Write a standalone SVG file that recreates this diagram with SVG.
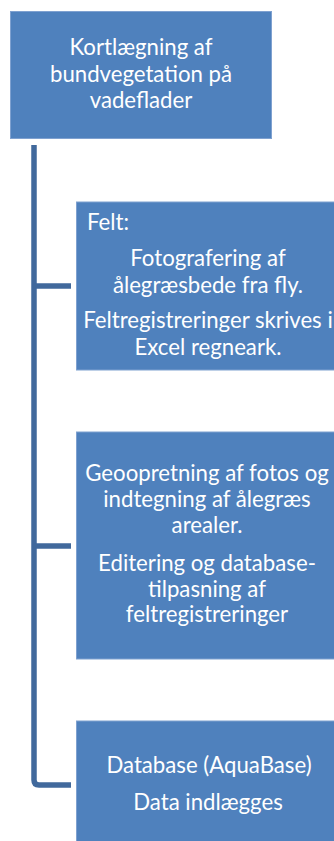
<svg xmlns="http://www.w3.org/2000/svg" width="334" height="841" viewBox="0 0 334 841">
<style>
.box{fill:#4F81BD;stroke:#7FA1D0;stroke-width:1}
.t{font-family:Lato,"Open Sans",sans-serif;font-size:22.2px;fill:#FFFFFF;text-anchor:middle}
.l{text-anchor:start}
.c{fill:none;stroke:#41699C;stroke-width:5.5}
</style>
<rect width="334" height="841" fill="#FFFFFF"/>
<g id="connectors">
<path class="c" d="M34 145 V780 Q34 785 39 785 H71"/>
<path class="c" d="M34 286 H71"/>
<path class="c" d="M34 546 H71"/>
</g>
<g id="root">
<rect class="box" x="10.5" y="11.5" width="261" height="127"/>
<text class="t" x="141" y="55">Kortlægning af</text>
<text class="t" x="141" y="82">bundvegetation på</text>
<text class="t" x="141" y="108">vadeflader</text>
</g>
<g id="felt">
<rect class="box" x="76.5" y="202" width="265" height="168"/>
<text class="t l" x="87" y="230">Felt:</text>
<text class="t" x="208" y="266">Fotografering af</text>
<text class="t" x="208" y="293">ålegræsbede fra fly.</text>
<text class="t" x="208" y="328">Feltregistreringer skrives i</text>
<text class="t" x="208" y="355">Excel regneark.</text>
</g>
<g id="geo">
<rect class="box" x="76.5" y="432" width="265" height="227"/>
<text class="t" x="207" y="481">Geoopretning af fotos og</text>
<text class="t" x="207" y="507">indtegning af ålegræs</text>
<text class="t" x="207" y="533">arealer.</text>
<text class="t" x="207" y="571">Editering og database-</text>
<text class="t" x="207" y="597">tilpasning af</text>
<text class="t" x="207" y="622">feltregistreringer</text>
</g>
<g id="database">
<rect class="box" x="76.5" y="721" width="265" height="130"/>
<text class="t" x="209" y="773">Database (AquaBase)</text>
<text class="t" x="208" y="810">Data indlægges</text>
</g>
</svg>
